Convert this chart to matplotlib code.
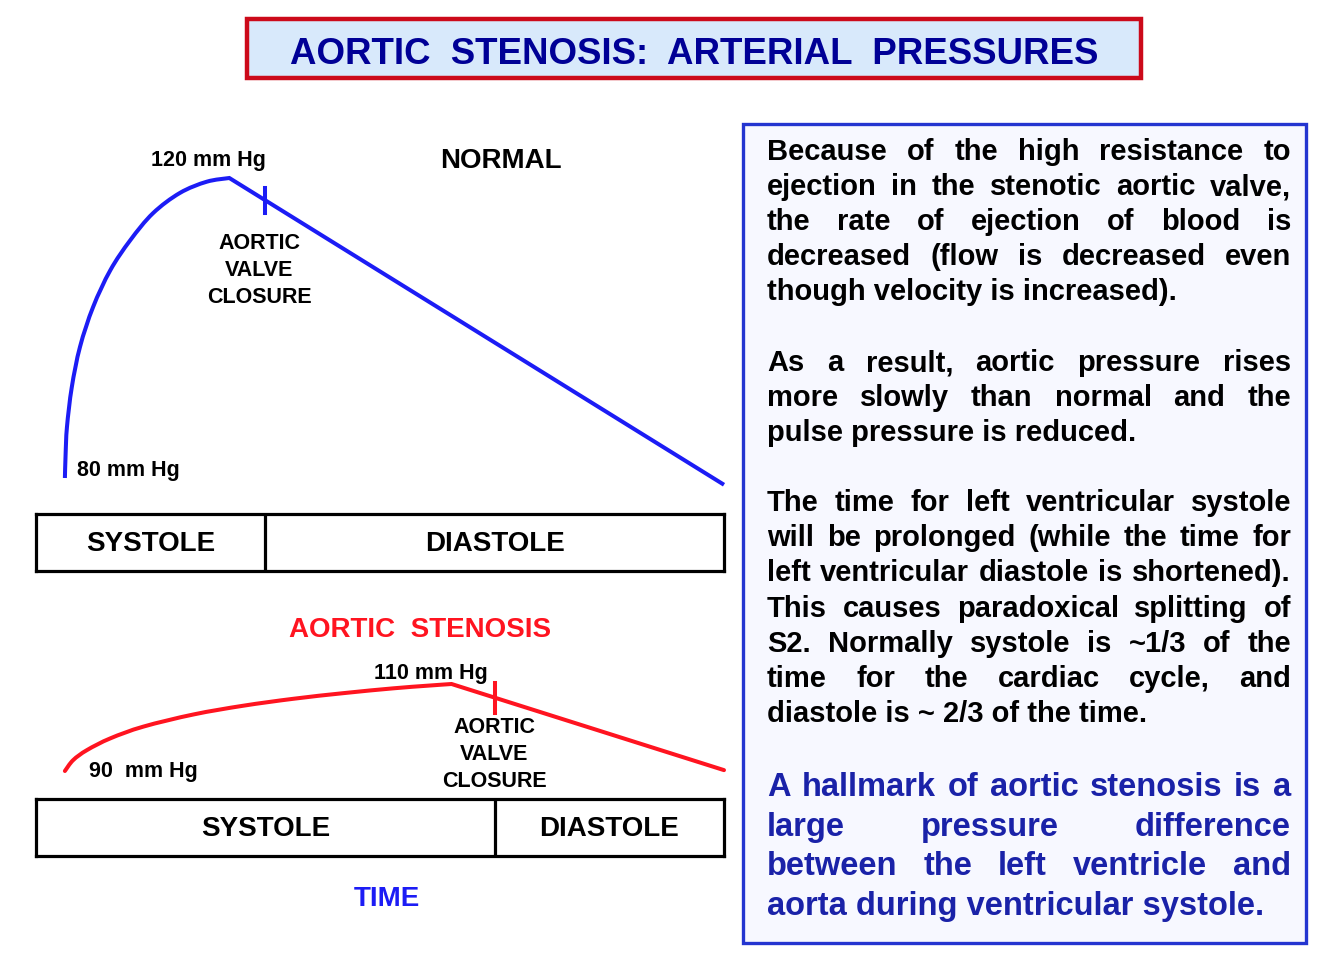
import matplotlib
matplotlib.use('Agg')
import matplotlib.pyplot as plt
from matplotlib.patches import Rectangle, PathPatch
from matplotlib.path import Path
from matplotlib import font_manager

plt.rcParams['font.family'] = ['Liberation Sans', 'DejaVu Sans']
plt.rcParams['font.weight'] = 'bold'

# ---------------------------------------------------------------------------
# data: time as fraction of the cardiac cycle, pressure in mm Hg
# the last point of each curve is the end of the straight diastolic decay
# ---------------------------------------------------------------------------
normal_t = [0.042, 0.043, 0.045, 0.052, 0.064, 0.083, 0.108, 0.137, 0.170,
            0.209, 0.248, 0.281, 1.0]
normal_p = [80.0, 83.1, 86.8, 92.1, 97.5, 102.8, 107.7, 111.7, 115.3,
            118.0, 119.5, 120.0, 79.1]
normal_systole = 1 / 3          # end of systole / aortic valve closure
normal_tick = [115.3, 118.7]

stenosis_t = [0.042, 0.054, 0.074, 0.108, 0.156, 0.229, 0.301, 0.374,
              0.447, 0.519, 0.568, 0.604, 1.0]
stenosis_p = [90.0, 92.5, 94.8, 97.5, 100.2, 103.0, 105.0, 106.6,
              107.9, 109.0, 109.6, 110.0, 90.2]
stenosis_systole = 2 / 3
stenosis_tick = [103.4, 110.3]

phase_labels = ['SYSTOLE', 'DIASTOLE']

title = 'AORTIC  STENOSIS:  ARTERIAL  PRESSURES'

para1 = ['Because of the high resistance to',
         'ejection in the stenotic aortic valve,',
         'the rate of ejection of blood is',
         'decreased (flow is decreased even',
         'though velocity is increased).']
para2 = ['As a result, aortic pressure rises',
         'more slowly than normal and the',
         'pulse pressure is reduced.']
para3 = ['The time for left ventricular systole',
         'will be prolonged (while the time for',
         'left ventricular diastole is shortened).',
         'This causes paradoxical splitting of',
         'S2.  Normally systole is ~1/3 of the',
         'time for the cardiac cycle, and',
         'diastole is ~ 2/3 of the time.']
para4 = ['A hallmark of aortic stenosis is a',
         'large pressure difference',
         'between the left ventricle and',
         'aorta during ventricular systole.']

BLUE = '#1c1cf5'
RED = '#ff1420'
NAVY = '#000096'
DARKBLUE = '#1a22a8'

W, H = 1334, 966
fig = plt.figure(figsize=(W / 100, H / 100), dpi=100)

# background axes in pixel units
ax = fig.add_axes([0, 0, 1, 1])
ax.set_xlim(0, W)
ax.set_ylim(H, 0)
ax.axis('off')


def px_axes(x0, y0, x1, y1):
    # axes spanning pixel box (y measured from top)
    return fig.add_axes([x0 / W, (H - y1) / H, (x1 - x0) / W, (y1 - y0) / H])


names = {f.name for f in font_manager.fontManager.ttflist}
title_family = 'Liberation Sans Narrow' if 'Liberation Sans Narrow' in names else 'Liberation Sans'
renderer = fig.canvas.get_renderer()


def fit_size(txt, width, family, start=20):
    t = ax.text(0, 0, txt, fontsize=start, family=family)
    w = t.get_window_extent(renderer).width
    t.remove()
    return start * width / w


# title box
ax.add_patch(Rectangle((247, 19), 894, 59, facecolor='#d8e9fb',
                       edgecolor='#cc0a1a', lw=3.2))
ax.text(694, 64, title, ha='center', va='baseline', color=NAVY,
        fontsize=fit_size(title, 807, title_family), family=title_family)

# right text box
ax.add_patch(Rectangle((743, 124), 563, 819, facecolor='#f7f8ff',
                       edgecolor='#2435d0', lw=2.4))


def justify(line, y, x0, x1, size, color, last):
    if last:
        ax.text(x0, y, line, fontsize=size, color=color, ha='left', va='baseline')
        return
    words = line.split()
    texts = [ax.text(0, y, w, fontsize=size, color=color, ha='left',
                     va='baseline') for w in words]
    widths = [t.get_window_extent(renderer).width for t in texts]
    gap = (x1 - x0 - sum(widths)) / (len(words) - 1)
    x = x0
    for t, w in zip(texts, widths):
        t.set_x(x)
        x += w + gap


def paragraph(lines, y0, step, size, color):
    for i, line in enumerate(lines):
        justify(line, y0 + i * step, 767, 1291, size, color, i == len(lines) - 1)


paragraph(para1, 160, 35, 21, 'black')
paragraph(para2, 371, 35, 21, 'black')
paragraph(para3, 511, 35.2, 21, 'black')
paragraph(para4, 796, 39.7, 23.5, DARKBLUE)


def pressure_path(ts, ps):
    # smooth rise through the systolic points, then a straight decay
    pts = list(zip(ts[:-1], ps[:-1]))
    n = len(pts)
    verts = [pts[0]]
    codes = [Path.MOVETO]
    for i in range(n - 1):
        p0, p1 = pts[max(i - 1, 0)], pts[i]
        p2, p3 = pts[i + 1], pts[min(i + 2, n - 1)]
        c1 = (p1[0] + (p2[0] - p0[0]) / 6, p1[1] + (p2[1] - p0[1]) / 6)
        c2 = (p2[0] - (p3[0] - p1[0]) / 6, p2[1] - (p3[1] - p1[1]) / 6)
        verts += [c1, c2, p2]
        codes += [Path.CURVE4] * 3
    verts.append((ts[-1], ps[-1]))
    codes.append(Path.LINETO)
    return Path(verts, codes)


# ---------------------------------------------------------------------------
# normal panel
# ---------------------------------------------------------------------------
ax_n = px_axes(36, 178, 724, 478)
ax_n.set_xlim(0, 1)
ax_n.set_ylim(80, 120)
ax_n.axis('off')
ax_n.add_patch(PathPatch(pressure_path(normal_t, normal_p), fill=False,
                         edgecolor=BLUE, lw=2.9, clip_on=False,
                         joinstyle='miter', capstyle='butt'))
ax_n.plot([normal_systole] * 2, normal_tick, color=BLUE, lw=2.9, clip_on=False)

ax.text(208, 166, '120 mm Hg', ha='center', va='baseline', fontsize=15.5)
ax.text(501, 168, 'NORMAL', ha='center', va='baseline', fontsize=20)
ax.text(77, 476, '80 mm Hg', ha='left', va='baseline', fontsize=15.5)
for i, s in enumerate(['AORTIC', 'VALVE', 'CLOSURE']):
    ax.text(259.5, 249 + i * 27, s, ha='center', va='baseline', fontsize=15.5)

# ---------------------------------------------------------------------------
# stenosis panel
# ---------------------------------------------------------------------------
ax_s = px_axes(36, 684, 724, 771)
ax_s.set_xlim(0, 1)
ax_s.set_ylim(90, 110)
ax_s.axis('off')
ax_s.add_patch(PathPatch(pressure_path(stenosis_t, stenosis_p), fill=False,
                         edgecolor=RED, lw=2.9, clip_on=False,
                         joinstyle='miter', capstyle='round'))
ax_s.plot([stenosis_systole] * 2, stenosis_tick, color=RED, lw=2.9, clip_on=False)

ax.text(420, 637, 'AORTIC  STENOSIS', ha='center', va='baseline',
        fontsize=20, color=RED)
ax.text(431, 679, '110 mm Hg', ha='center', va='baseline', fontsize=15.5)
ax.text(89, 777, '90  mm Hg', ha='left', va='baseline', fontsize=15.5)
for i, s in enumerate(['AORTIC', 'VALVE', 'CLOSURE']):
    ax.text(494.5, 733 + i * 27, s, ha='center', va='baseline', fontsize=15.5)
ax.text(387, 906, 'TIME', ha='center', va='baseline', fontsize=20, color=BLUE)


# ---------------------------------------------------------------------------
# systole / diastole bars
# ---------------------------------------------------------------------------
def phase_bar(y0, y1, split):
    b = px_axes(36, y0, 724, y1)
    b.set_xlim(0, 1)
    b.set_ylim(0, 1)
    b.set_xticks([])
    b.set_yticks([])
    b.patch.set_alpha(0)
    for sp in b.spines.values():
        sp.set_linewidth(2.3)
    b.axvline(split, color='black', lw=2.3)
    centers = [split / 2, (split + 1) / 2]
    for c, lab in zip(centers, phase_labels):
        b.text(c, 0.35, lab, ha='center', va='baseline', fontsize=20)


phase_bar(514, 571, normal_systole)
phase_bar(799, 856, stenosis_systole)

fig.savefig('out.png', dpi=100)
